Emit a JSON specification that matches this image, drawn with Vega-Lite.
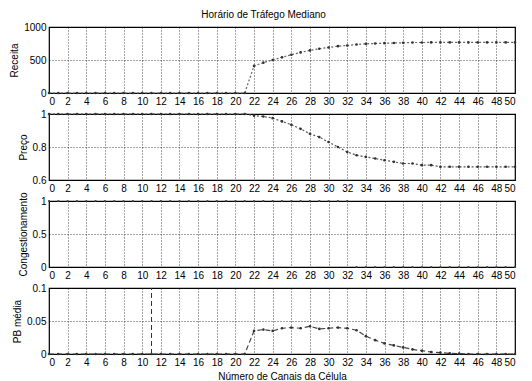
{
  "$schema": "https://vega.github.io/schema/vega-lite/v6.json",
  "padding": {"left": 9, "top": 10, "right": 6, "bottom": 0},
  "background": "white",
  "title": {"text": "Horário de Tráfego Mediano", "fontSize": 10, "fontWeight": "normal", "font": "Liberation Sans", "anchor": "middle", "offset": 1, "color": "black"},
  "bounds": "flush",
  "spacing": 21,
  "config": {
    "font": "Liberation Sans",
    "view": {"stroke": "black", "strokeWidth": 1.2},
    "axis": {
      "labelFont": "Liberation Sans", "labelFontSize": 10, "labelColor": "black",
      "titleFont": "Liberation Sans", "titleFontSize": 10, "titleFontWeight": "normal", "titleColor": "black",
      "grid": true, "gridColor": "black", "gridDash": [1, 2], "gridOpacity": 0.9, "gridWidth": 0.8,
      "ticks": false, "domain": false, "labelPadding": 3
    }
  },
  "datasets": {
    "main": [
      {"x": 0, "receita": 0, "preco": 1, "cong": 1, "pb": 0},
      {"x": 1, "receita": 0, "preco": 1, "cong": 1, "pb": 0},
      {"x": 2, "receita": 0, "preco": 1, "cong": 1, "pb": 0},
      {"x": 3, "receita": 0, "preco": 1, "cong": 1, "pb": 0},
      {"x": 4, "receita": 0, "preco": 1, "cong": 1, "pb": 0},
      {"x": 5, "receita": 0, "preco": 1, "cong": 1, "pb": 0},
      {"x": 6, "receita": 0, "preco": 1, "cong": 1, "pb": 0},
      {"x": 7, "receita": 0, "preco": 1, "cong": 1, "pb": 0},
      {"x": 8, "receita": 0, "preco": 1, "cong": 1, "pb": 0},
      {"x": 9, "receita": 0, "preco": 1, "cong": 1, "pb": 0},
      {"x": 10, "receita": 0, "preco": 1, "cong": 1, "pb": 0},
      {"x": 11, "receita": 0, "preco": 1, "cong": 1, "pb": 0},
      {"x": 12, "receita": 0, "preco": 1, "cong": 1, "pb": 0},
      {"x": 13, "receita": 0, "preco": 1, "cong": 1, "pb": 0},
      {"x": 14, "receita": 0, "preco": 1, "cong": 1, "pb": 0},
      {"x": 15, "receita": 0, "preco": 1, "cong": 1, "pb": 0},
      {"x": 16, "receita": 0, "preco": 1, "cong": 1, "pb": 0},
      {"x": 17, "receita": 0, "preco": 1, "cong": 1, "pb": 0},
      {"x": 18, "receita": 0, "preco": 1, "cong": 1, "pb": 0},
      {"x": 19, "receita": 0, "preco": 1, "cong": 1, "pb": 0},
      {"x": 20, "receita": 0, "preco": 1, "cong": 1, "pb": 0},
      {"x": 21, "receita": 0, "preco": 1, "cong": 1, "pb": 0},
      {"x": 22, "receita": 410, "preco": 0.99, "cong": 1, "pb": 0.035},
      {"x": 23, "receita": 460, "preco": 0.985, "cong": 1, "pb": 0.037},
      {"x": 24, "receita": 500, "preco": 0.975, "cong": 1, "pb": 0.035},
      {"x": 25, "receita": 540, "preco": 0.955, "cong": 1, "pb": 0.039},
      {"x": 26, "receita": 580, "preco": 0.935, "cong": 1, "pb": 0.040},
      {"x": 27, "receita": 615, "preco": 0.91, "cong": 1, "pb": 0.039},
      {"x": 28, "receita": 645, "preco": 0.88, "cong": 1, "pb": 0.042},
      {"x": 29, "receita": 670, "preco": 0.86, "cong": 1, "pb": 0.038},
      {"x": 30, "receita": 690, "preco": 0.83, "cong": 1, "pb": 0.039},
      {"x": 31, "receita": 710, "preco": 0.80, "cong": 1, "pb": 0.040},
      {"x": 32, "receita": 720, "preco": 0.77, "cong": 1, "pb": 0.039},
      {"x": 33, "receita": 735, "preco": 0.75, "cong": 0, "pb": 0.036},
      {"x": 34, "receita": 745, "preco": 0.74, "cong": 0, "pb": 0.027},
      {"x": 35, "receita": 750, "preco": 0.73, "cong": 0, "pb": 0.021},
      {"x": 36, "receita": 755, "preco": 0.72, "cong": 0, "pb": 0.016},
      {"x": 37, "receita": 758, "preco": 0.71, "cong": 0, "pb": 0.013},
      {"x": 38, "receita": 760, "preco": 0.70, "cong": 0, "pb": 0.010},
      {"x": 39, "receita": 765, "preco": 0.70, "cong": 0, "pb": 0.007},
      {"x": 40, "receita": 765, "preco": 0.69, "cong": 0, "pb": 0.005},
      {"x": 41, "receita": 766, "preco": 0.69, "cong": 0, "pb": 0.003},
      {"x": 42, "receita": 766, "preco": 0.68, "cong": 0, "pb": 0.002},
      {"x": 43, "receita": 767, "preco": 0.68, "cong": 0, "pb": 0.001},
      {"x": 44, "receita": 767, "preco": 0.68, "cong": 0, "pb": 0.0005},
      {"x": 45, "receita": 767, "preco": 0.68, "cong": 0, "pb": 0},
      {"x": 46, "receita": 767, "preco": 0.68, "cong": 0, "pb": 0},
      {"x": 47, "receita": 767, "preco": 0.68, "cong": 0, "pb": 0},
      {"x": 48, "receita": 767, "preco": 0.68, "cong": 0, "pb": 0},
      {"x": 49, "receita": 767, "preco": 0.68, "cong": 0, "pb": 0},
      {"x": 50, "receita": 767, "preco": 0.68, "cong": 0, "pb": 0}
    ],
    "spike": [{"x": 11, "y0": 0, "y1": 0.1}]
  },
  "vconcat": [
    {
      "width": 466, "height": 66,
      "data": {"name": "main"},
      "encoding": {
        "x": {"field": "x", "type": "quantitative", "scale": {"domain": [0, 50], "nice": false}, "axis": {"values": [0,2,4,6,8,10,12,14,16,18,20,22,24,26,28,30,32,34,36,38,40,42,44,46,48,50], "title": null}},
        "y": {"field": "receita", "type": "quantitative", "scale": {"domain": [0, 1000], "nice": false}, "axis": {"values": [0, 500, 1000], "format": "d", "title": "Receita"}}
      },
      "layer": [
        {"mark": {"type": "line", "color": "#666666", "strokeWidth": 1.2, "strokeDash": [2, 2]}},
        {"mark": {"type": "point", "filled": true, "color": "#333333", "size": 7, "opacity": 1}}
      ]
    },
    {
      "width": 466, "height": 66,
      "data": {"name": "main"},
      "encoding": {
        "x": {"field": "x", "type": "quantitative", "scale": {"domain": [0, 50], "nice": false}, "axis": {"values": [0,2,4,6,8,10,12,14,16,18,20,22,24,26,28,30,32,34,36,38,40,42,44,46,48,50], "title": null}},
        "y": {"field": "preco", "type": "quantitative", "scale": {"domain": [0.6, 1], "nice": false, "zero": false}, "axis": {"values": [0.6, 0.8, 1], "format": "~g", "title": "Preço"}}
      },
      "layer": [
        {"mark": {"type": "line", "color": "#555555", "strokeWidth": 1.2, "strokeDash": [2, 2]}},
        {"mark": {"type": "point", "filled": true, "color": "#333333", "size": 7, "opacity": 1}}
      ]
    },
    {
      "width": 466, "height": 66,
      "data": {"name": "main"},
      "encoding": {
        "x": {"field": "x", "type": "quantitative", "scale": {"domain": [0, 50], "nice": false}, "axis": {"values": [0,2,4,6,8,10,12,14,16,18,20,22,24,26,28,30,32,34,36,38,40,42,44,46,48,50], "title": null}},
        "y": {"field": "cong", "type": "quantitative", "scale": {"domain": [0, 1], "nice": false}, "axis": {"values": [0, 0.5, 1], "format": "~g", "title": "Congestionamento"}}
      },
      "layer": [
        {"mark": {"type": "point", "filled": true, "color": "#444444", "size": 5, "opacity": 1}}
      ]
    },
    {
      "width": 466, "height": 66,
      "layer": [
        {
          "data": {"name": "spike"},
          "mark": {"type": "rule", "color": "#333333", "strokeWidth": 1, "strokeDash": [5, 3]},
          "encoding": {
            "x": {"field": "x", "type": "quantitative"},
            "y": {"field": "y0", "type": "quantitative"},
            "y2": {"field": "y1"}
          }
        },
        {
          "data": {"name": "main"},
          "mark": {"type": "line", "color": "#444444", "strokeWidth": 1.2, "strokeDash": [5, 3]},
          "encoding": {
            "x": {"field": "x", "type": "quantitative"},
            "y": {"field": "pb", "type": "quantitative"}
          }
        },
        {
          "data": {"name": "main"},
          "mark": {"type": "point", "filled": true, "color": "#333333", "size": 7, "opacity": 1},
          "encoding": {
            "x": {"field": "x", "type": "quantitative"},
            "y": {"field": "pb", "type": "quantitative"}
          }
        }
      ],
      "encoding": {
        "x": {"field": "x", "type": "quantitative", "scale": {"domain": [0, 50], "nice": false}, "axis": {"values": [0,2,4,6,8,10,12,14,16,18,20,22,24,26,28,30,32,34,36,38,40,42,44,46,48,50], "title": "Número de Canais da Célula", "titlePadding": 4}},
        "y": {"field": "pb", "type": "quantitative", "scale": {"domain": [0, 0.1], "nice": false}, "axis": {"values": [0, 0.05, 0.1], "format": "~g", "title": "PB média"}}
      }
    }
  ]
}
